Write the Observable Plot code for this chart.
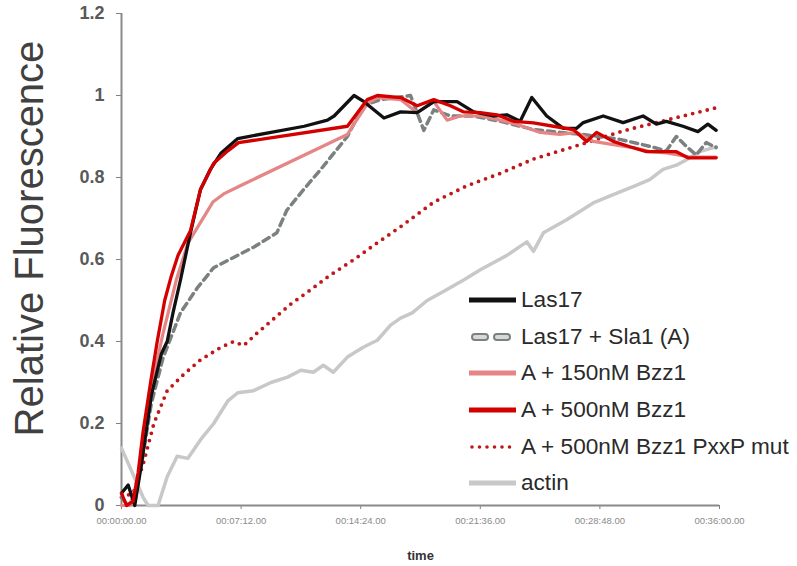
<!DOCTYPE html>
<html><head><meta charset="utf-8">
<script src="https://cdn.jsdelivr.net/npm/d3@7"></script>
<script src="https://cdn.jsdelivr.net/npm/@observablehq/plot@0.6"></script>
<style>
body{margin:0;background:#fff;}
#wrap{position:relative;width:797px;height:566px;overflow:hidden;font-family:"Liberation Sans",Arial,sans-serif;}
#wrap svg{font-family:"Liberation Sans",Arial,sans-serif;}
g[aria-label^="y-axis"] text{font-size:18px !important;font-weight:bold !important;fill:#595959 !important;}
g[aria-label^="x-axis"] text{font-size:9.5px !important;fill:#8a8a8a !important;}
g[aria-label^="y-axis"], g[aria-label^="x-axis"]{color:#808080;}
#legend{position:absolute;left:469px;top:282px;}
.row{display:flex;align-items:center;height:36.6px;}
.row span{font-size:22.6px;color:#2a2a2a;margin-left:5px;white-space:nowrap;}
</style></head>
<body><div id="wrap"></div>
<script>
// time in minutes, value = relative fluorescence
const las17 = [[0,0.03],[0.4,0.05],[0.8,0.0],[1.2,0.1],[1.8,0.27],[2.4,0.37],[2.75,0.40],[3.1,0.47],[3.55,0.55],[4.15,0.665],[4.75,0.77],[5.35,0.82],[6.0,0.86],[7.0,0.895],[9.0,0.91],[11.0,0.925],[12.4,0.94],[12.8,0.95],[14.0,1.0],[14.6,0.985],[15.8,0.945],[16.8,0.96],[17.8,0.958],[18.8,0.985],[20.2,0.985],[21.2,0.96],[22.4,0.95],[23.2,0.953],[24.0,0.937],[24.7,0.995],[25.6,0.95],[26.6,0.92],[27.4,0.92],[27.8,0.934],[29.0,0.95],[30.2,0.934],[31.4,0.95],[32.2,0.93],[32.8,0.937],[33.8,0.925],[34.7,0.912],[35.3,0.93],[35.8,0.915]];
const las17Sla1 = [[0,0.02],[0.4,0.0],[0.8,0.02],[1.2,0.1],[1.8,0.25],[2.5,0.36],[3.55,0.47],[4.55,0.53],[5.55,0.58],[6.75,0.605],[7.95,0.63],[8.75,0.65],[9.35,0.665],[9.95,0.72],[10.95,0.77],[12.0,0.82],[12.8,0.86],[13.6,0.9],[14.55,0.975],[15.6,0.99],[16.5,0.995],[17.4,1.0],[18.2,0.915],[18.8,0.965],[19.8,0.95],[21.2,0.95],[22.8,0.937],[24.8,0.917],[26.4,0.91],[27.8,0.905],[30.0,0.893],[31.8,0.876],[32.8,0.865],[33.4,0.9],[34.0,0.876],[34.6,0.855],[35.2,0.885],[35.8,0.873]];
const bzz150 = [[0,0.0],[0.5,0.0],[1.0,0.06],[1.75,0.28],[2.5,0.42],[3.3,0.55],[4.0,0.64],[4.75,0.69],[5.5,0.74],[6.15,0.76],[7.15,0.78],[13.6,0.905],[14.8,0.98],[15.4,0.995],[16.8,0.99],[17.8,0.958],[18.8,0.985],[19.6,0.94],[20.4,0.95],[21.6,0.95],[22.8,0.94],[23.8,0.93],[25.2,0.91],[26.4,0.905],[27.4,0.91],[28.4,0.888],[29.6,0.88],[30.8,0.873],[31.8,0.863],[32.8,0.86],[34.2,0.85],[35.8,0.85]];
const bzz500 = [[0,0.03],[0.3,0.0],[0.7,0.01],[1.0,0.08],[1.3,0.18],[1.75,0.30],[2.15,0.40],[2.6,0.5],[3.0,0.56],[3.4,0.61],[4.15,0.67],[4.75,0.77],[5.55,0.835],[6.4,0.865],[7.05,0.885],[13.6,0.925],[14.8,0.99],[15.4,1.0],[16.8,0.995],[17.8,0.975],[18.8,0.99],[19.8,0.975],[20.6,0.96],[21.6,0.958],[22.6,0.953],[23.6,0.937],[24.8,0.933],[26.0,0.925],[27.2,0.917],[28.0,0.888],[28.6,0.91],[29.6,0.888],[30.6,0.875],[31.6,0.863],[32.8,0.863],[33.4,0.863],[34.1,0.848],[34.8,0.848],[35.8,0.848]];
const pxxpMut = [[0,0.02],[0.7,0.03],[1.3,0.1],[1.95,0.2],[2.75,0.28],[3.75,0.32],[4.75,0.355],[5.95,0.385],[6.75,0.40],[7.35,0.39],[8.15,0.42],[9.15,0.455],[10.15,0.49],[11.35,0.525],[12.5,0.56],[14.0,0.60],[15.2,0.635],[16.8,0.68],[18.8,0.74],[20.8,0.78],[22.8,0.81],[24.8,0.845],[26.8,0.87],[28.0,0.885],[29.9,0.91],[30.8,0.92],[32.8,0.94],[34.8,0.96],[35.8,0.97]];
const actin = [[0,0.14],[1.3,0.02],[1.6,0.0],[2.2,0.0],[2.75,0.07],[3.35,0.12],[4.0,0.115],[4.75,0.16],[5.55,0.20],[6.4,0.255],[7.0,0.275],[7.95,0.28],[9.0,0.30],[10.0,0.313],[10.8,0.33],[11.55,0.325],[12.15,0.342],[12.75,0.325],[13.6,0.362],[14.55,0.386],[15.4,0.403],[16.2,0.44],[16.8,0.457],[17.5,0.47],[18.4,0.50],[19.3,0.52],[20.6,0.55],[21.6,0.575],[23.2,0.61],[24.4,0.643],[24.8,0.62],[25.4,0.665],[26.8,0.697],[28.4,0.738],[29.6,0.758],[30.8,0.778],[31.8,0.795],[32.6,0.82],[33.4,0.83],[34.0,0.843],[34.8,0.863],[35.8,0.875]];

const seriesNames = ["Las17","Las17 + Sla1 (A)","A + 150nM Bzz1","A + 500nM Bzz1","A + 500nM Bzz1 PxxP mut","actin"];
const xTicks = [0,7.2,14.4,21.6,28.8,36];
const xTickLabels = ["00:00:00.00","00:07:12.00","00:14:24.00","00:21:36.00","00:28:48.00","00:36:00.00"];
const yTicks = [0,0.2,0.4,0.6,0.8,1,1.2];
const yTitle = "Relative Fluorescence";
const xTitle = "time";

const toRows = a => a.map(([t,v]) => ({t, v}));

const styles = {
  "Las17": {stroke:"#111111", strokeWidth:3.3},
  "Las17 + Sla1 (A)": {stroke:"#7b8181", strokeWidth:3.5, strokeDasharray:"7,5"},
  "A + 150nM Bzz1": {stroke:"#e58585", strokeWidth:3.2},
  "A + 500nM Bzz1": {stroke:"#d40000", strokeWidth:3.3},
  "A + 500nM Bzz1 PxxP mut": {stroke:"#c01818", strokeWidth:3.8, strokeDasharray:"0,7.5", strokeLinecap:"round"},
  "actin": {stroke:"#c8c8c8", strokeWidth:3.5}
};
const dataBy = {
  "Las17": las17, "Las17 + Sla1 (A)": las17Sla1, "A + 150nM Bzz1": bzz150,
  "A + 500nM Bzz1": bzz500, "A + 500nM Bzz1 PxxP mut": pxxpMut, "actin": actin
};
const drawOrder = ["actin","A + 500nM Bzz1 PxxP mut","Las17 + Sla1 (A)","A + 150nM Bzz1","Las17","A + 500nM Bzz1"];

const chart = Plot.plot({
  width: 797, height: 566,
  marginLeft: 121, marginRight: 78, marginTop: 13, marginBottom: 61,
  style: {background:"#fff"},
  x: {domain:[0,36], ticks: xTicks, tickFormat: d => xTickLabels[xTicks.indexOf(d)], tickSize: 4, tickPadding: 8, label: null},
  y: {domain:[0,1.2], ticks: yTicks, tickFormat: d => String(+d.toFixed(1)), tickSize: 5, tickPadding: 12, label: null},
  marks: [
    Plot.ruleX([0], {stroke:"#8a8a8a", strokeWidth:2}),
    Plot.ruleY([0], {stroke:"#8a8a8a", strokeWidth:2}),
    ...drawOrder.map(name => Plot.line(toRows(dataBy[name]), {x:"t", y:"v", ...styles[name], strokeLinejoin:"round"})),
    Plot.text([yTitle], {text: d => d, frameAnchor:"left", textAnchor:"middle", lineAnchor:"middle", dx:-91, dy:-21, rotate:-90, fontSize:40, fill:"#404040"}),
    Plot.text([xTitle], {text: d => d, frameAnchor:"bottom", textAnchor:"middle", lineAnchor:"middle", dy:50, fontSize:13, fontWeight:"bold", fill:"#333"})
  ]
});
const wrap = document.getElementById("wrap");
wrap.appendChild(chart);

// legend
const legend = document.createElement("div");
legend.id = "legend";
seriesNames.forEach(name => {
  const s = styles[name];
  const row = document.createElement("div");
  row.className = "row";
  let sw;
  if (name === "Las17 + Sla1 (A)") {
    sw = `<svg width="47" height="12"><rect x="3" y="3" width="16" height="6" rx="3" fill="#d8dada" stroke="#7b8181" stroke-width="2"/><rect x="25" y="3" width="16" height="6" rx="3" fill="#d8dada" stroke="#7b8181" stroke-width="2"/></svg>`;
  } else if (name === "A + 500nM Bzz1 PxxP mut") {
    sw = `<svg width="47" height="12"><line x1="3" y1="6" x2="44" y2="6" stroke="${s.stroke}" stroke-width="3.6" stroke-dasharray="0,7.5" stroke-linecap="round"/></svg>`;
  } else {
    sw = `<svg width="47" height="12"><line x1="0" y1="6" x2="47" y2="6" stroke="${s.stroke}" stroke-width="5"/></svg>`;
  }
  row.innerHTML = sw + `<span>${name}</span>`;
  legend.appendChild(row);
});
wrap.appendChild(legend);
</script>
</body></html>
